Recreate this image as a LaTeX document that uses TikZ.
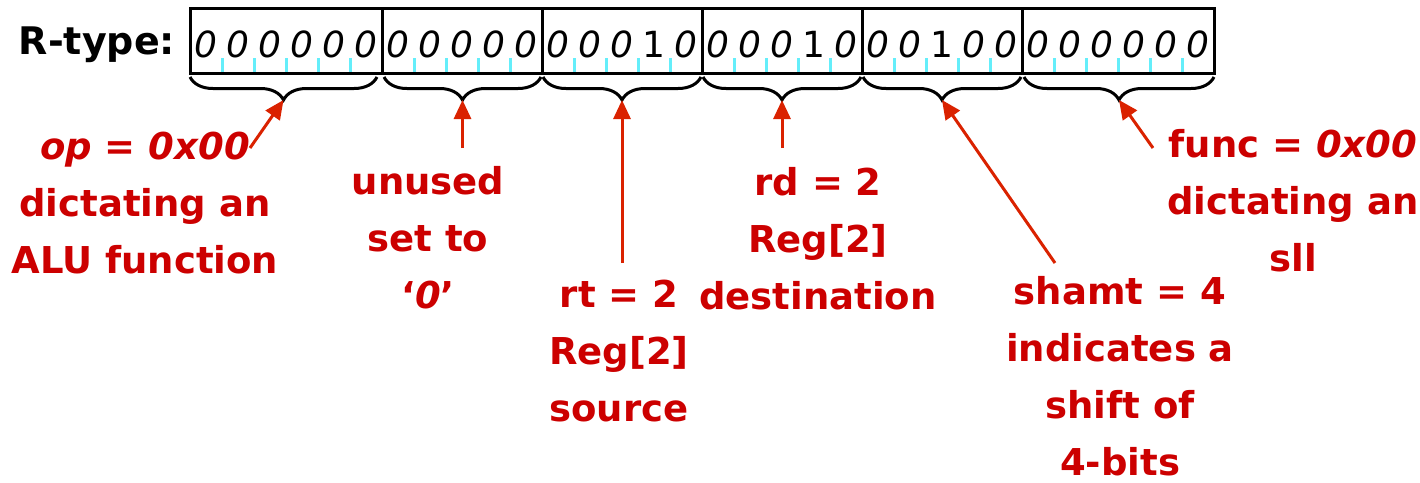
\documentclass[tikz,border=0pt]{standalone}
\usepackage{fontspec}
\setmainfont{DejaVu Sans}
\usetikzlibrary{arrows.meta,decorations.pathreplacing}
\definecolor{lblred}{RGB}{204,0,0}
\definecolor{arrred}{RGB}{218,34,0}
\definecolor{tickcyan}{RGB}{100,238,250}
\begin{document}
\begin{tikzpicture}[x=1pt,y=-1pt,
  field/.style={draw=black, line width=3pt, minimum height=65pt, inner sep=0pt},
  bitdigit/.style={font=\fontsize{36}{36}\selectfont, inner sep=0pt},
  lbl/.style={text=lblred, align=center, font=\fontsize{37}{57}\selectfont\bfseries, inner sep=0pt},
  callout/.style={draw=arrred, line width=3pt, -{Triangle[length=19pt,width=17pt]}},
  fieldbrace/.style={draw=black, line width=3pt, decorate, decoration={brace, amplitude=23pt}},
  bittick/.style={draw=tickcyan, line width=3pt},
]
\useasboundingbox (0,0) rectangle (1420,482);

% instruction word title
\node[font=\fontsize{38}{38}\selectfont\bfseries, inner sep=0pt] (rtype) at (97,45) {R-type:};

% the six fields of the instruction word
\node[field, minimum width=192pt] (f1) at (286,40.5) {};
\node[field, minimum width=160pt] (f2) at (462,40.5) {};
\node[field, minimum width=160pt] (f3) at (622,40.5) {};
\node[field, minimum width=160pt] (f4) at (782,40.5) {};
\node[field, minimum width=160pt] (f5) at (942,40.5) {};
\node[field, minimum width=192pt] (f6) at (1118,40.5) {};

% bit separators inside each field
\foreach \k in {1,2,3,4,5,7,8,9,10,12,13,14,15,17,18,19,20,22,23,24,25,27,28,29,30,31}
  \draw[bittick] (190+32*\k,58) -- (190+32*\k,71.5);

% the 32 bits
\foreach \b [count=\i from 0] in {0,0,0,0,0,0, 0,0,0,0,0, 0,0,0,1,0, 0,0,0,1,0, 0,0,1,0,0, 0,0,0,0,0,0}
  \node[bitdigit] (d\i) at (190+32*\i+16,44) {\ifnum\b=0 \itshape 0\else 1\fi};

% braces under the fields
\draw[fieldbrace] (377,77) -- (190,77);
\draw[fieldbrace] (541,77) -- (384,77);
\draw[fieldbrace] (701,77) -- (543,77);
\draw[fieldbrace] (861,77) -- (703,77);
\draw[fieldbrace] (1021,77) -- (863,77);
\draw[fieldbrace] (1214,77) -- (1024,77);
\coordinate (b1) at (283.5,100);
\coordinate (b2) at (462.5,100);
\coordinate (b3) at (622,100);
\coordinate (b4) at (782,100);
\coordinate (b5) at (942,100);
\coordinate (b6) at (1119,100);

% field descriptions
\node[lbl] (op) at (145,203) {\itshape op = 0x00\\dictating an\\ALU function};
\node[lbl] (unused) at (428,238) {unused\\set to\\‘\textit{0}’};
\node[lbl] (rt) at (619,351) {rt = 2\\Reg[2]\\source};
\node[lbl] (rd) at (818,239) {rd = 2\\Reg[2]\\destination};
\node[lbl] (shamt) at (1120,376) {shamt = 4\\indicates a\\shift of\\4-bits};
\node[lbl] (func) at (1293,201) {func = \textit{0x00}\\dictating an\\sll};

% callout arrows
\coordinate (opt) at (250,148);
\coordinate (unt) at (462.5,148);
\coordinate (rtt) at (622,263);
\coordinate (rdt) at (782,148);
\coordinate (sht) at (1055,263);
\coordinate (fnt) at (1153,148);
\draw[callout] (opt) -- (b1);
\draw[callout] (unt) -- (b2);
\draw[callout] (rtt) -- (b3);
\draw[callout] (rdt) -- (b4);
\draw[callout] (sht) -- (b5);
\draw[callout] (fnt) -- (b6);
\end{tikzpicture}
\end{document}
